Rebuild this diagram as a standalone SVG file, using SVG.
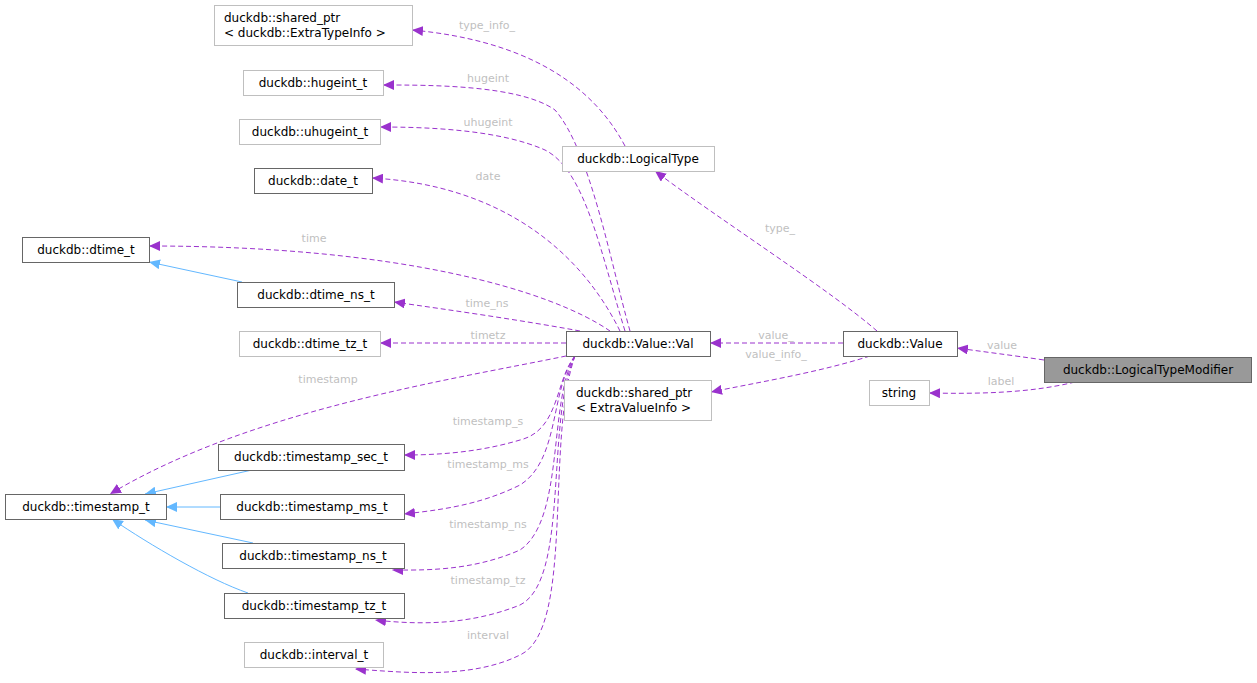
<svg xmlns="http://www.w3.org/2000/svg" width="1257" height="683" viewBox="0 0 1257 683">
<style>
text{font-family:"DejaVu Sans",sans-serif;}
.n rect{fill:#fff;stroke:#666;stroke-width:1;}
.l rect{fill:#fff;stroke:#bfbfbf;stroke-width:1;}
.n text,.l text{font-size:12px;fill:#000;}
.e{fill:none;stroke:#9a32cd;stroke-dasharray:5,3;stroke-width:1;marker-end:url(#pa);}
.i{fill:none;stroke:#63b8ff;stroke-width:1;marker-end:url(#ba);}
.lb{font-size:11px;fill:#bfbfbf;text-anchor:middle;}
</style>
<defs>
<marker id="pa" markerWidth="12" markerHeight="10" refX="11" refY="5" orient="auto" markerUnits="userSpaceOnUse"><path d="M0,0 L11,5 L0,10 z" fill="#9a32cd"/></marker>
<marker id="ba" markerWidth="12" markerHeight="10" refX="11" refY="5" orient="auto" markerUnits="userSpaceOnUse"><path d="M0,0 L11,5 L0,10 z" fill="#63b8ff"/></marker>
</defs>
<g id="connectors">
<path class="e" d="M1044,360 C1010,355 985,352 957,348"/>
<path class="e" d="M1075,382 C1030,393 980,394 929,393"/>
<path class="e" d="M843,343 L710,343"/>
<path class="e" d="M870,356 C820,372 760,382 711,392"/>
<path class="e" d="M877,331 C830,290 720,220 655,171"/>
<path class="e" d="M625,146 C590,80 520,40 412,30"/>
<path class="e" d="M630,331 C610,260 590,150 555,110 C520,85 430,85 383,85"/>
<path class="e" d="M625,331 C600,250 585,170 545,150 C500,130 430,127 380,127"/>
<path class="e" d="M620,331 C580,250 500,185 372,178"/>
<path class="e" d="M610,331 C550,290 400,246 149,246"/>
<path class="e" d="M580,331 C520,320 450,310 394,302"/>
<path class="e" d="M566,343 L380,343"/>
<path class="e" d="M566,356 C450,380 250,410 110,494"/>
<path class="e" d="M575,356 C555,380 560,430 520,440 C480,452 440,455 404,455"/>
<path class="e" d="M575,356 C550,390 560,460 520,485 C480,505 440,510 404,514"/>
<path class="e" d="M575,356 C548,400 565,520 520,550 C470,572 420,570 392,570"/>
<path class="e" d="M575,356 C545,420 570,580 520,605 C470,625 420,625 375,620"/>
<path class="e" d="M575,356 C545,440 575,630 520,655 C470,680 400,672 355,669"/>
<path class="i" d="M242,282 L149,262"/>
<path class="i" d="M252,470 L145,494"/>
<path class="i" d="M220,507 L166,507"/>
<path class="i" d="M253,543 L145,520"/>
<path class="i" d="M248,593 C210,580 150,545 112,519"/>
<text class="lb" x="1002" y="349">value</text>
<text class="lb" x="1001" y="385">label</text>
<text class="lb" x="776" y="339">value_</text>
<text class="lb" x="776" y="358">value_info_</text>
<text class="lb" x="780" y="232">type_</text>
<text class="lb" x="487" y="29">type_info_</text>
<text class="lb" x="488" y="82">hugeint</text>
<text class="lb" x="488" y="126">uhugeint</text>
<text class="lb" x="488" y="180">date</text>
<text class="lb" x="314" y="242">time</text>
<text class="lb" x="487" y="307">time_ns</text>
<text class="lb" x="488" y="339">timetz</text>
<text class="lb" x="328" y="383">timestamp</text>
<text class="lb" x="488" y="425">timestamp_s</text>
<text class="lb" x="488" y="468">timestamp_ms</text>
<text class="lb" x="488" y="528">timestamp_ns</text>
<text class="lb" x="488" y="584">timestamp_tz</text>
<text class="lb" x="488" y="639">interval</text>
</g>
<g id="n_eti" class="l"><rect x="214.5" y="5.5" width="198" height="40"/><text x="224" y="22">duckdb::shared_ptr</text><text x="224" y="37">&lt; duckdb::ExtraTypeInfo &gt;</text></g>
<g id="n_hugeint" class="l"><rect x="243.5" y="70.5" width="140" height="25"/><text x="313" y="87" text-anchor="middle">duckdb::hugeint_t</text></g>
<g id="n_uhugeint" class="l"><rect x="239.5" y="119.5" width="141" height="25"/><text x="310" y="136" text-anchor="middle">duckdb::uhugeint_t</text></g>
<g id="n_date" class="n"><rect x="254.5" y="168.5" width="118" height="25"/><text x="313" y="185" text-anchor="middle">duckdb::date_t</text></g>
<g id="n_dtime" class="n"><rect x="22.5" y="237.5" width="127" height="25"/><text x="86" y="254" text-anchor="middle">duckdb::dtime_t</text></g>
<g id="n_dtime_ns" class="n"><rect x="237.5" y="282.5" width="157" height="25"/><text x="316" y="299" text-anchor="middle">duckdb::dtime_ns_t</text></g>
<g id="n_dtime_tz" class="l"><rect x="239.5" y="331.5" width="141" height="25"/><text x="310" y="348" text-anchor="middle">duckdb::dtime_tz_t</text></g>
<g id="n_val" class="n"><rect x="566.5" y="331.5" width="144" height="25"/><text x="638" y="348" text-anchor="middle">duckdb::Value::Val</text></g>
<g id="n_logicaltype" class="l"><rect x="562.5" y="146.5" width="152" height="25"/><text x="638" y="163" text-anchor="middle">duckdb::LogicalType</text></g>
<g id="n_value" class="n"><rect x="843.5" y="331.5" width="114" height="25"/><text x="900" y="348" text-anchor="middle">duckdb::Value</text></g>
<g id="n_ltm"><rect x="1044.5" y="357.5" width="207" height="25" fill="#999" stroke="#666"/><text x="1148" y="374" text-anchor="middle" font-size="12">duckdb::LogicalTypeModifier</text></g>
<g id="n_string" class="l"><rect x="869.5" y="380.5" width="60" height="25"/><text x="899" y="397" text-anchor="middle">string</text></g>
<g id="n_evi" class="l"><rect x="564.5" y="380.5" width="147" height="40"/><text x="576" y="397">duckdb::shared_ptr</text><text x="576" y="412">&lt; ExtraValueInfo &gt;</text></g>
<g id="n_ts" class="n"><rect x="5.5" y="494.5" width="161" height="25"/><text x="86" y="511" text-anchor="middle">duckdb::timestamp_t</text></g>
<g id="n_ts_sec" class="n"><rect x="218.5" y="444.5" width="186" height="26"/><text x="311" y="461" text-anchor="middle">duckdb::timestamp_sec_t</text></g>
<g id="n_ts_ms" class="n"><rect x="220.5" y="494.5" width="184" height="25"/><text x="312" y="511" text-anchor="middle">duckdb::timestamp_ms_t</text></g>
<g id="n_ts_ns" class="n"><rect x="222.5" y="543.5" width="182" height="25"/><text x="313" y="560" text-anchor="middle">duckdb::timestamp_ns_t</text></g>
<g id="n_ts_tz" class="n"><rect x="224.5" y="593.5" width="180" height="25"/><text x="314" y="610" text-anchor="middle">duckdb::timestamp_tz_t</text></g>
<g id="n_interval" class="l"><rect x="244.5" y="642.5" width="139" height="25"/><text x="314" y="659" text-anchor="middle">duckdb::interval_t</text></g>
</svg>
